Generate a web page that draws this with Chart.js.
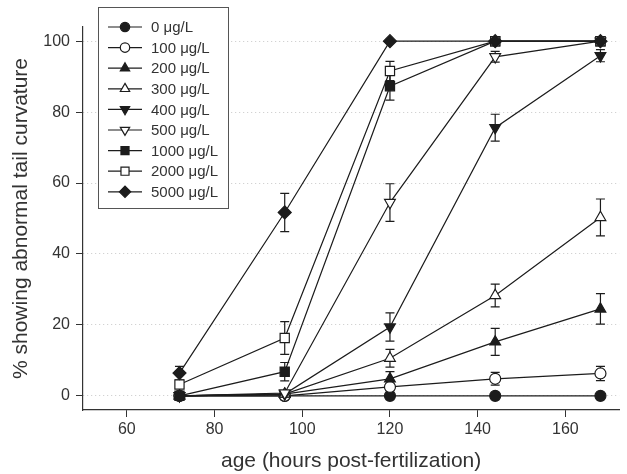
<!DOCTYPE html>
<html>
<head>
<meta charset="utf-8">
<script src="https://cdn.jsdelivr.net/npm/chart.js@4"></script>
<style>
  html, body { margin: 0; padding: 0; background: #fff; }
  #wrap { position: relative; width: 627px; height: 474px; }
</style>
</head>
<body>
<div id="wrap"><canvas id="tailChart"></canvas></div>
<script>
const hours = [72, 96, 120, 144, 168];
const xTicks = [60, 80, 100, 120, 140, 160];
const yTicks = [0, 20, 40, 60, 80, 100];

const labels = ['0 μg/L', '100 μg/L', '200 μg/L', '300 μg/L', '400 μg/L', '500 μg/L', '1000 μg/L', '2000 μg/L', '5000 μg/L'];

// % showing abnormal tail curvature, and SE, per concentration
const c0 = [0, 0, 0, 0, 0];
const c100 = [0, 0, 2.5, 4.8, 6.3];
const c200 = [0, 0.5, 4.8, 15.2, 24.5];
const c300 = [0, 0.5, 10.6, 28.3, 50.3];
const c400 = [0, 0.5, 19.4, 75.6, 95.9];
const c500 = [0, 0.8, 54.5, 95.6, 100];
const c1000 = [0, 6.8, 87.3, 100, 100];
const c2000 = [3.2, 16.3, 91.6, 100, 100];
const c5000 = [6.4, 51.7, 100, 100, 100];

const e0 = [0, 0, 0, 0, 0];
const e100 = [0, 0, 1, 1.8, 2];
const e200 = [0, 0, 2, 3.8, 4.3];
const e300 = [0, 0, 2.5, 3.2, 5.2];
const e400 = [0, 0, 4, 3.8, 1.7];
const e500 = [0, 0, 5.3, 1.5, 0];
const e1000 = [0, 2.6, 3.9, 0, 0];
const e2000 = [0, 4.6, 2.7, 0, 0];
const e5000 = [1.9, 5.4, 0, 0, 0];

const series = [c0, c100, c200, c300, c400, c500, c1000, c2000, c5000];
const errors = [e0, e100, e200, e300, e400, e500, e1000, e2000, e5000];
const shapes = ['circle', 'circle', 'triangle', 'triangle', 'triangle', 'triangle', 'rect', 'rect', 'rectRot'];
const filled = [true, false, true, false, true, false, true, false, true];
const rotations = [0, 0, 0, 0, 180, 180, 0, 0, 0];
const radii = [5.5, 5.5, 6.2, 6.2, 6.2, 6.2, 6.5, 6.5, 6.5];

const ink = '#1c1c1c';
const fontName = '"Liberation Sans", Arial, sans-serif';

const datasets = series.map((vals, i) => ({
    label: labels[i],
    data: vals.map((v, j) => ({ x: hours[j], y: v })),
    order: series.length - i, // higher doses drawn on top
    borderColor: ink,
    borderWidth: 1.2,
    pointStyle: shapes[i],
    pointRotation: rotations[i],
    pointRadius: radii[i],
    pointBorderWidth: 1.2,
    pointBorderColor: ink,
    pointBackgroundColor: filled[i] ? ink : '#fff',
    errs: errors[i]
}));

const errorBars = {
    id: 'errorBars',
    beforeDatasetsDraw(chart) {
        const { ctx, scales: { x, y } } = chart;
        ctx.save();
        ctx.strokeStyle = ink;
        ctx.lineWidth = 1.2;
        chart.data.datasets.forEach(ds => {
            ds.data.forEach((p, j) => {
                const e = ds.errs[j];
                if (!e) return;
                const px = x.getPixelForValue(p.x);
                const top = y.getPixelForValue(p.y + e);
                const bot = y.getPixelForValue(p.y - e);
                ctx.beginPath();
                ctx.moveTo(px, top); ctx.lineTo(px, bot);
                ctx.moveTo(px - 4.5, top); ctx.lineTo(px + 4.5, top);
                ctx.moveTo(px - 4.5, bot); ctx.lineTo(px + 4.5, bot);
                ctx.stroke();
            });
        });
        ctx.restore();
    }
};

const boxLegend = {
    id: 'boxLegend',
    afterDraw(chart) {
        const ctx = chart.ctx;
        const bx = 98, by = 7, bw = 130, bh = 201;
        ctx.save();
        ctx.fillStyle = '#fff';
        ctx.fillRect(bx, by, bw, bh);
        ctx.strokeStyle = '#555';
        ctx.lineWidth = 1;
        ctx.strokeRect(bx + 0.5, by + 0.5, bw, bh);
        ctx.font = '15px ' + fontName;
        ctx.textBaseline = 'middle';
        chart.data.datasets.forEach((ds, i) => {
            const ly = 27 + i * 20.6;
            ctx.strokeStyle = ink;
            ctx.lineWidth = 1.2;
            ctx.beginPath();
            ctx.moveTo(108, ly); ctx.lineTo(142, ly);
            ctx.stroke();
            ctx.fillStyle = ds.pointBackgroundColor;
            Chart.helpers.drawPoint(ctx, {
                pointStyle: ds.pointStyle,
                rotation: ds.pointRotation,
                radius: ds.pointRadius - 0.8,
                borderWidth: 1.2
            }, 125, ly);
            ctx.fillStyle = '#333';
            ctx.fillText(ds.label, 151, ly + 1);
        });
        ctx.restore();
    }
};

new Chart(document.getElementById('tailChart'), {
    type: 'line',
    data: { datasets },
    options: {
        responsive: true,
        maintainAspectRatio: false,
        animation: false,
        layout: { padding: { top: 27, right: 0, left: 0, bottom: 0 } },
        plugins: { legend: { display: false }, tooltip: { enabled: false } },
        scales: {
            x: {
                type: 'linear',
                min: 50,
                max: 172.3,
                afterBuildTicks: s => { s.ticks = xTicks.map(v => ({ value: v })); },
                afterFit: s => { s.height = 64; },
                grid: { drawOnChartArea: false, drawTicks: true, tickLength: 7, tickColor: '#333', tickWidth: 1 },
                border: { color: '#333', width: 1.2 },
                ticks: { color: '#333', padding: 3, font: { family: fontName, size: 16 } },
                title: {
                    display: true,
                    text: 'age (hours post-fertilization)',
                    color: '#333',
                    padding: { top: 0, bottom: 0 },
                    font: { family: fontName, size: 21 }
                }
            },
            y: {
                min: -4,
                max: 104,
                afterBuildTicks: s => { s.ticks = yTicks.map(v => ({ value: v })); },
                afterFit: s => { s.width = 83; },
                grid: { color: '#c8c8c8', lineWidth: 1, tickLength: 7, tickColor: '#333', tickWidth: 1 },
                border: { color: '#333', width: 1.2, dash: [1, 3] },
                ticks: { color: '#333', padding: 6, font: { family: fontName, size: 16 } },
                title: {
                    display: true,
                    text: '% showing abnormal tail curvature',
                    color: '#333',
                    padding: { top: 9, bottom: 0 },
                    font: { family: fontName, size: 21 }
                }
            }
        }
    },
    plugins: [errorBars, boxLegend]
});
</script>
</body>
</html>
